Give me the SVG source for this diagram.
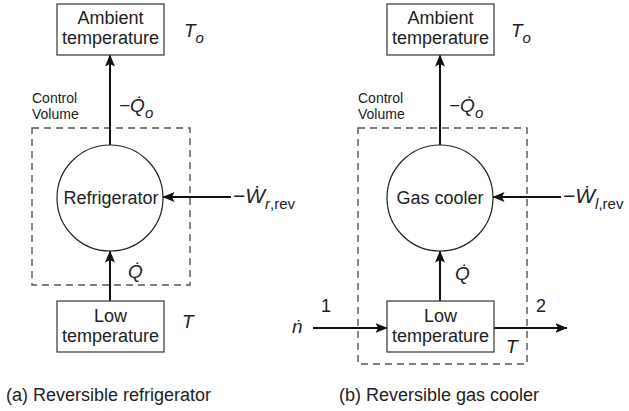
<svg xmlns="http://www.w3.org/2000/svg" width="629" height="411" viewBox="0 0 629 411">
<defs>
<marker id="ah" viewBox="0 0 12 10" refX="11.5" refY="5" markerWidth="12" markerHeight="10" markerUnits="userSpaceOnUse" orient="auto">
<path d="M0,0 L12,5 L0,10 L2.5,5 Z" fill="#111"/>
</marker>
</defs>
<style>
text{font-family:"Liberation Sans",Arial,sans-serif;fill:#222}
.lbl{font-size:18px;text-anchor:middle}
.cap{font-size:18px}
.num{font-size:18px}
.cv{font-size:14px}
.it{font-style:italic;font-size:19px}
.w{font-style:italic;font-size:21px}
.sub{font-style:italic;font-size:15px}
.up{font-style:normal}
.box{fill:#fff;stroke:#444;stroke-width:1.3}
.circ{fill:#fff;stroke:#222;stroke-width:1.2}
.cvr{fill:none;stroke:#555;stroke-width:1.4;stroke-dasharray:7,5}
.arr{stroke:#111;stroke-width:2;fill:none;marker-end:url(#ah)}
</style>
<rect width="629" height="411" fill="#fff"/>

<g id="controlvolumes">
<rect class="cvr" x="32" y="128" width="158" height="157"/>
<rect class="cvr" x="358" y="128" width="169" height="236"/>
</g>

<g id="connectors">
<line class="arr" x1="110" y1="145" x2="110" y2="55"/>
<line class="arr" x1="231" y1="197" x2="163" y2="197"/>
<line class="arr" x1="110" y1="301" x2="110" y2="251"/>
<line class="arr" x1="440" y1="145" x2="440" y2="55"/>
<line class="arr" x1="561" y1="197" x2="493" y2="197"/>
<line class="arr" x1="440" y1="301" x2="440" y2="251"/>
<line class="arr" x1="313" y1="328" x2="387" y2="328"/>
<line class="arr" x1="494" y1="328" x2="567" y2="328"/>
</g>

<g id="ambient-a">
<rect class="box" x="57" y="4" width="107" height="51"/>
<text class="lbl" x="110.5" y="24">Ambient</text>
<text class="lbl" x="110.5" y="44">temperature</text>
</g>
<g id="refrigerator">
<circle class="circ" cx="110" cy="198" r="53"/>
<text class="lbl" x="111" y="204">Refrigerator</text>
</g>
<g id="low-a">
<rect class="box" x="57" y="301" width="107" height="51"/>
<text class="lbl" x="110.5" y="322">Low</text>
<text class="lbl" x="110.5" y="342">temperature</text>
</g>

<g id="ambient-b">
<rect class="box" x="387" y="4" width="107" height="51"/>
<text class="lbl" x="440.5" y="24">Ambient</text>
<text class="lbl" x="440.5" y="44">temperature</text>
</g>
<g id="gascooler">
<circle class="circ" cx="440" cy="198" r="53"/>
<text class="lbl" x="440" y="204">Gas cooler</text>
</g>
<g id="low-b">
<rect class="box" x="387" y="301" width="107" height="51"/>
<text class="lbl" x="440.5" y="322">Low</text>
<text class="lbl" x="440.5" y="342">temperature</text>
</g>

<g id="labels-a">
<text class="it" x="184" y="37">T<tspan class="sub" dy="6">o</tspan></text>
<text class="cv" x="32" y="103">Control</text>
<text class="cv" x="32" y="119">Volume</text>
<text class="it" x="119" y="112">−Q̇<tspan class="sub" dy="6">o</tspan></text>
<text class="w" x="233" y="203">−Ẇ<tspan class="sub" dy="6">r<tspan class="up">,rev</tspan></tspan></text>
<text class="it" x="128" y="278">Q̇</text>
<text class="it" x="182" y="328">T</text>
<text class="cap" x="6" y="401">(a) Reversible refrigerator</text>
</g>

<g id="labels-b">
<text class="it" x="511" y="37">T<tspan class="sub" dy="6">o</tspan></text>
<text class="cv" x="358" y="103">Control</text>
<text class="cv" x="358" y="119">Volume</text>
<text class="it" x="449" y="112">−Q̇<tspan class="sub" dy="6">o</tspan></text>
<text class="w" x="563" y="203">−Ẇ<tspan class="sub" dy="6">l<tspan class="up">,rev</tspan></tspan></text>
<text class="it" x="455" y="280">Q̇</text>
<text class="num" x="321" y="312">1</text>
<text class="it" x="292" y="333">ṅ</text>
<text class="num" x="536" y="312">2</text>
<text class="it" x="506" y="353">T</text>
<text class="cap" x="339" y="401">(b) Reversible gas cooler</text>
</g>
</svg>
